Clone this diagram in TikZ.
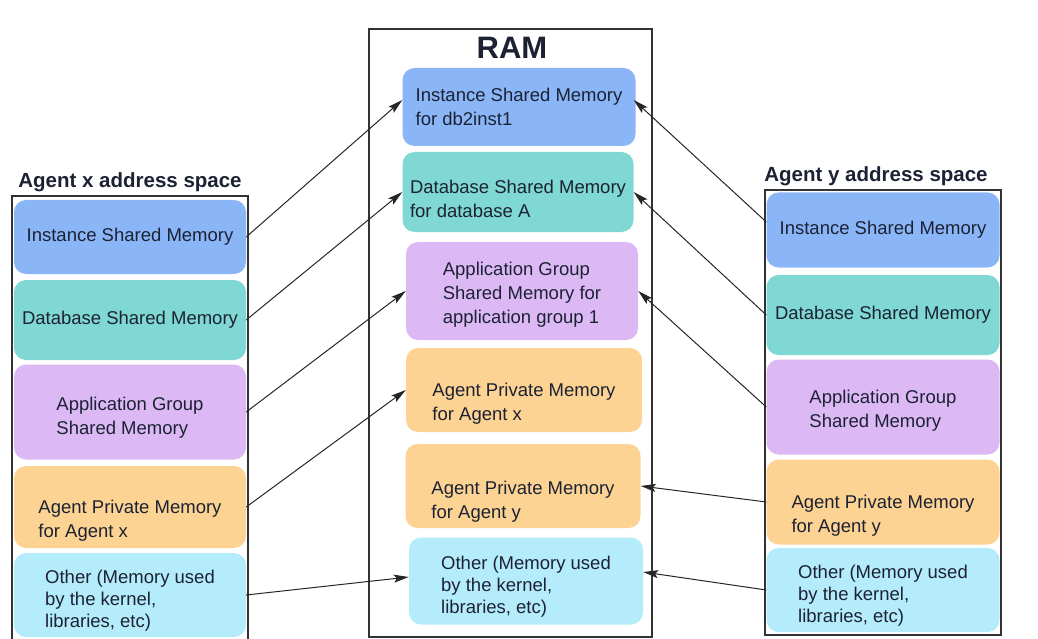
\documentclass[tikz,border=0pt]{standalone}
\usepackage{fontspec}
\setmainfont{Liberation Sans}
\usepackage{xcolor}
\usetikzlibrary{positioning,arrows.meta}
\definecolor{instblue}{HTML}{8AB6F8}
\definecolor{dbteal}{HTML}{7FD8D4}
\definecolor{applilac}{HTML}{DCB9F5}
\definecolor{privorange}{HTML}{FDD393}
\definecolor{othercyan}{HTML}{B4ECFB}
\definecolor{inkdark}{HTML}{1C2233}
\definecolor{framegray}{HTML}{333333}

\begin{document}
\begin{tikzpicture}[
  x=1pt,y=-1pt,
  frame/.style={draw=framegray,line width=1.1pt,inner sep=0pt},
  membox/.style={rounded corners=12pt,inner sep=0pt,align=left,text=inkdark,
    font=\fontsize{18.5}{24}\selectfont},
  instbox/.style={membox,fill=instblue},
  dbbox/.style={membox,fill=dbteal},
  appbox/.style={membox,fill=applilac,text height=47.5pt},
  privbox/.style={membox,fill=privorange,text height=65.5pt},
  otherbox/.style={membox,fill=othercyan,text height=69.5pt,font=\fontsize{18.5}{22}\selectfont},
  title/.style={font=\bfseries\fontsize{20.5}{24}\selectfont,text=inkdark},
  arr/.style={-{Stealth[length=15pt,width=8pt,inset=3pt]},line width=1pt,color=black!85}
]
  \useasboundingbox (0,0) rectangle (1038,639);
  % frames
  \node[frame,minimum width=236pt,minimum height=446pt] (lframe) at (130,419) {};
  \node[frame,minimum width=283pt,minimum height=608pt] (ram) at (510.5,333) {};
  \node[frame,minimum width=236pt,minimum height=445pt] (rframe) at (883,412.5) {};
  \node[title] (ltitle) at (130,182) {Agent x address space};
  \node[title,font=\bfseries\fontsize{31}{34}\selectfont] (ramtitle) at (512,48) {RAM};
  \node[title] (rtitle) at (876,176) {Agent y address space};
  % agent x
  \node[instbox,minimum width=232pt,minimum height=74pt] (lins) at (130,237) {Instance Shared Memory};
  \node[dbbox,minimum width=232pt,minimum height=80pt] (ldb) at (130,320) {Database Shared Memory};
  \node[appbox,minimum width=232pt,minimum height=95pt,text height=49.5pt] (lapp) at (130,412) {Application Group\\Shared Memory};
  \node[privbox,minimum width=232pt,minimum height=82pt] (lpriv) at (130,507) {Agent Private Memory\\for Agent x};
  \node[otherbox,minimum width=232pt,minimum height=84pt] (loth) at (130,595) {Other (Memory used\\by the kernel,\\libraries, etc)};
  % RAM
  \node[instbox,minimum width=233pt,minimum height=78pt] (mins) at (519,107) {Instance Shared Memory\\for db2inst1};
  \node[dbbox,minimum width=231pt,minimum height=80pt,text height=51.5pt] (mdb) at (518,192) {Database Shared Memory\\for database A};
  \node[appbox,minimum width=232pt,minimum height=98pt,text height=69.5pt] (mapp) at (522,291) {Application Group\\Shared Memory for\\application group 1};
  \node[privbox,minimum width=236pt,minimum height=84pt] (mpx) at (524,390) {Agent Private Memory\\for Agent x};
  \node[privbox,minimum width=235pt,minimum height=84pt,text height=69.5pt] (mpy) at (523,486) {Agent Private Memory\\for Agent y};
  \node[otherbox,minimum width=234pt,minimum height=87pt] (moth) at (526,581) {Other (Memory used\\by the kernel,\\libraries, etc)};
  % agent y
  \node[instbox,minimum width=233pt,minimum height=75pt] (rins) at (883,230) {Instance Shared Memory};
  \node[dbbox,minimum width=233pt,minimum height=80pt] (rdb) at (883,315) {Database Shared Memory};
  \node[appbox,minimum width=233pt,minimum height=95pt,text height=45.5pt] (rapp) at (883,407) {Application Group\\Shared Memory};
  \node[privbox,minimum width=233pt,minimum height=85pt] (rpriv) at (883,502) {Agent Private Memory\\for Agent y};
  \node[otherbox,minimum width=233pt,minimum height=84pt] (roth) at (883,590) {Other (Memory used\\by the kernel,\\libraries, etc)};
  % connectors
  \draw[arr] (lins.east) -- ([yshift=7pt]mins.west);
  \draw[arr] (ldb.east) -- (mdb.west);
  \draw[arr] (lapp.east) -- (mapp.west);
  \draw[arr] (lpriv.east) -- (mpx.west);
  \draw[arr] (loth.east) -- ([yshift=4pt]moth.west);
  \draw[arr] ([yshift=8pt]rins.west) -- ([xshift=-2pt,yshift=7pt]mins.east);
  \draw[arr] (rdb.west) -- (mdb.east);
  \draw[arr] (rapp.west) -- (mapp.east);
  \draw[arr] (rpriv.west) -- (mpy.east);
  \draw[arr] (roth.west) -- ([yshift=9pt]moth.east);
\end{tikzpicture}
\end{document}
